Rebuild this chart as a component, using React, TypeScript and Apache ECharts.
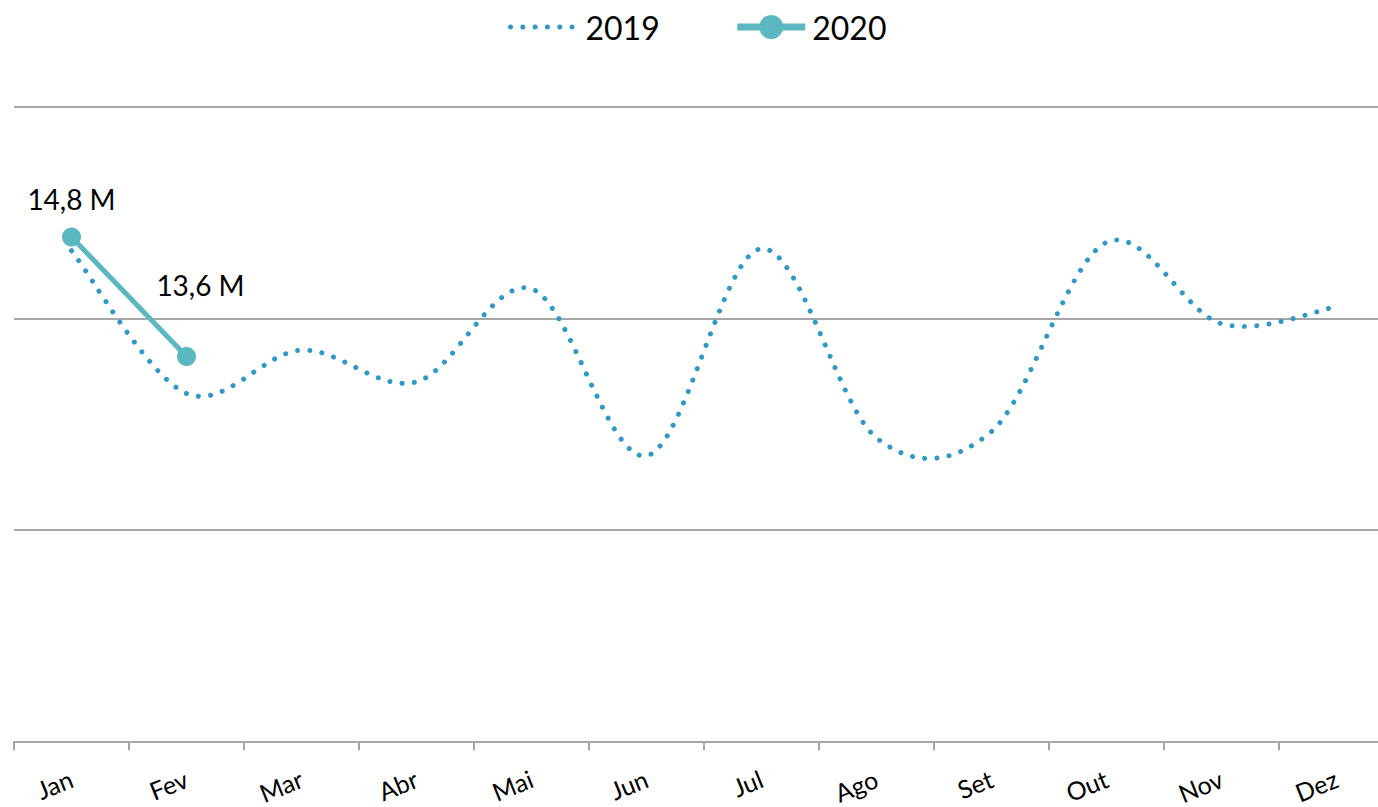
import React, { useEffect, useRef } from "react";
import * as echarts from "echarts";

const months = ["Jan", "Fev", "Mar", "Abr", "Mai", "Jun", "Jul", "Ago", "Set", "Out", "Nov", "Dez"];
const values2019 = [14.64, 13.29, 13.7, 13.4, 14.28, 12.7, 14.66, 12.87, 12.93, 14.72, 13.95, 14.11];
const values2020 = [14.77, 13.64];
const yMin = 10;
const yMax = 16;
const yInterval = 2;

const FONT = "Lato, 'Open Sans', sans-serif";
const C2019 = "#2f98c6";
const C2020 = "#5bb7c0";
const DOTS = [0.01, 12.3];

export default function App() {
  const ref = useRef<HTMLDivElement>(null);
  useEffect(() => {
    if (!ref.current) return;
    const chart = echarts.init(ref.current, undefined, { renderer: "svg" });
    const fmt = (p: any) => Number(p.value).toFixed(1).replace(".", ",") + " M";
    const renderCurve = (params: any, api: any) => {
      if (params.dataIndex !== 0) return null;
      const pts = values2019.map((v, i) => api.coord([i, v]));
      const n = pts.length;
      const t = 1 / 6;
      let d = `M${pts[0][0]},${pts[0][1]}`;
      for (let i = 0; i < n - 1; i++) {
        const p0 = pts[i - 1] || pts[i];
        const p1 = pts[i];
        const p2 = pts[i + 1];
        const p3 = pts[i + 2] || pts[i + 1];
        const c1x = p1[0] + (p2[0] - p0[0]) * t;
        const c1y = p1[1] + (p2[1] - p0[1]) * t;
        const c2x = p2[0] - (p3[0] - p1[0]) * t;
        const c2y = p2[1] - (p3[1] - p1[1]) * t;
        d += ` C${c1x},${c1y} ${c2x},${c2y} ${p2[0]},${p2[1]}`;
      }
      return {
        type: "path",
        shape: { pathData: d },
        style: { fill: "none", stroke: C2019, lineWidth: 5, lineDash: DOTS, lineCap: "round" },
      };
    };
    chart.setOption({
      animation: false,
      backgroundColor: "#ffffff",
      textStyle: { fontFamily: FONT },
      legend: {
        top: 6,
        left: 503,
        itemWidth: 68,
        itemHeight: 30,
        itemGap: 74,
        textStyle: { fontSize: 32, color: "#000", fontFamily: FONT, padding: [0, 0, 0, 2] },
        data: [
          {
            name: "2019",
            itemStyle: { opacity: 0 },
            lineStyle: { opacity: 1, color: C2019, width: 5, type: DOTS, cap: "round" },
          },
          {
            name: "2020",
            lineStyle: { color: C2020, width: 7 },
          },
        ],
      },
      grid: { left: 14, right: 6, top: 107, bottom: 61, containLabel: false },
      xAxis: {
        type: "category",
        data: months,
        boundaryGap: true,
        axisLine: { lineStyle: { color: "#a6a6a6", width: 2 } },
        axisTick: { show: true, length: 9, lineStyle: { color: "#a6a6a6", width: 2 } },
        axisLabel: {
          rotate: 22,
          margin: 36,
          fontSize: 25,
          color: "#000",
          fontFamily: FONT,
          interval: 0,
        },
      },
      yAxis: {
        type: "value",
        min: yMin,
        max: yMax,
        interval: yInterval,
        axisLabel: { show: false },
        axisLine: { show: false },
        axisTick: { show: false },
        splitLine: { lineStyle: { color: "#a6a6a6", width: 2 } },
      },
      series: [
        {
          name: "2019",
          type: "line",
          data: values2019,
          symbol: "none",
          showSymbol: false,
          color: C2019,
          lineStyle: { color: C2019, width: 5, type: DOTS, cap: "round", opacity: 0 },
          silent: true,
          z: 1,
        },
        {
          name: "2019 curve",
          type: "custom",
          renderItem: renderCurve,
          data: values2019.map((v, i) => [i, v]),
          encode: { x: 0, y: 1 },
          silent: true,
          z: 2,
        },
        {
          name: "2020",
          type: "line",
          symbol: "circle",
          symbolSize: 19,
          color: C2020,
          itemStyle: { color: C2020 },
          lineStyle: { color: C2020, width: 5 },
          z: 3,
          label: {
            show: true,
            formatter: fmt,
            fontSize: 28,
            color: "#000",
            fontFamily: FONT,
          },
          data: [
            { value: values2020[0], label: { position: "top", distance: 15 } },
            { value: values2020[1], label: { position: "top", distance: 48, offset: [14, 0] } },
          ],
        },
      ],
    });
    return () => chart.dispose();
  }, []);
  return (
    <div style={{ position: "absolute", left: 0, top: 0, width: 1378, height: 807, overflow: "hidden", background: "#fff" }}>
      <div ref={ref} style={{ width: 1400, height: 807 }} />
    </div>
  );
}
